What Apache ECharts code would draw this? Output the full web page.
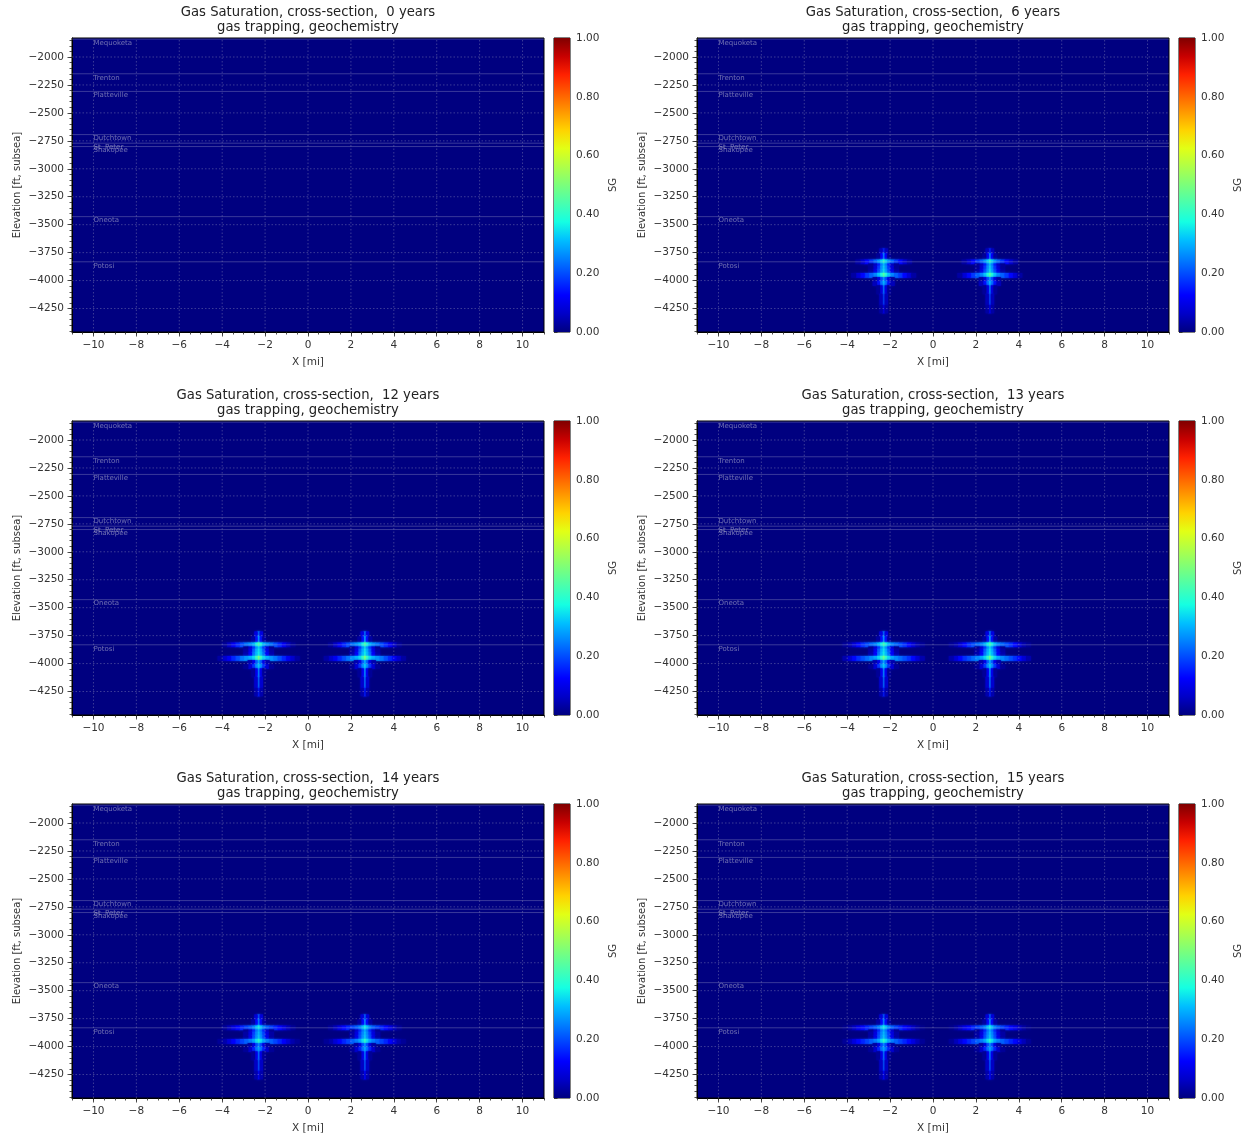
<!DOCTYPE html>
<html>
<head>
<meta charset="utf-8">
<script src="https://cdn.jsdelivr.net/npm/echarts@6/dist/echarts.min.js"></script>
<style>
html, body { margin: 0; padding: 0; background: #fff; }
#chart { width: 1247px; height: 1139px; }
</style>
</head>
<body>
<div id="chart"></div>
<script>
// 数据定义
var years = [0, 6, 12, 13, 14, 15];
var xTicks = [-10, -8, -6, -4, -2, 0, 2, 4, 6, 8, 10];
var yTicks = [-2000, -2250, -2500, -2750, -3000, -3250, -3500, -3750, -4000, -4250];
var sgTicks = [0, 0.2, 0.4, 0.6, 0.8, 1.0];
var colorbarRange = [0, 1];

var formationNames = ['Mequoketa', 'Trenton', 'Platteville', 'Dutchtown', 'St. Peter', 'Shakopee', 'Oneota', 'Potosi'];
var formationTops = [-1840, -2150, -2308, -2694, -2771, -2801, -3428, -3832];

// 两口井的位置 [mi]
var wellX = [-2.3, 2.65];
// 距井的水平偏移 [mi]（半剖面）
var offsets = [0, 0.12, 0.25, 0.4, 0.6, 0.8, 1.0, 1.2, 1.4, 1.6, 1.8];
// 网格层 [ft, subsea]
var layerTop = [-3715, -3760, -3815, -3850, -3872, -3905, -3935, -3972, -4010, -4045, -4120, -4220];
var layerBot = [-3760, -3815, -3850, -3872, -3905, -3935, -3972, -4010, -4045, -4120, -4220, -4290];

// 每个时刻的 SG 半剖面（每层一行，从井向外）
var sg00 = [];
var sg06 = [
    [0.16, 0.05],
    [0.28, 0.12, 0.02],
    [0.42, 0.34, 0.28, 0.23, 0.18, 0.13, 0.07, 0.03],
    [0.32, 0.25, 0.15, 0.06, 0.02],
    [0.34, 0.27, 0.18, 0.08, 0.02],
    [0.35, 0.28, 0.20, 0.10, 0.03],
    [0.47, 0.39, 0.32, 0.26, 0.22, 0.18, 0.13, 0.08, 0.03],
    [0.29, 0.20, 0.09, 0.03],
    [0.32, 0.24, 0.14, 0.05],
    [0.26, 0.09, 0.02],
    [0.20, 0.05],
    [0.10, 0.03]
];
var sg12 = [
    [0.25, 0.09],
    [0.31, 0.14, 0.03],
    [0.46, 0.38, 0.31, 0.27, 0.24, 0.20, 0.16, 0.11, 0.06, 0.02],
    [0.34, 0.27, 0.18, 0.08, 0.02],
    [0.36, 0.30, 0.22, 0.10, 0.03],
    [0.37, 0.31, 0.24, 0.12, 0.04],
    [0.52, 0.42, 0.34, 0.30, 0.27, 0.24, 0.20, 0.16, 0.11, 0.07, 0.03],
    [0.31, 0.22, 0.10, 0.04],
    [0.34, 0.27, 0.18, 0.08, 0.02],
    [0.29, 0.11, 0.02],
    [0.25, 0.07],
    [0.15, 0.04]
];
var sg13 = [
    [0.25, 0.09],
    [0.31, 0.14, 0.03],
    [0.45, 0.37, 0.31, 0.26, 0.23, 0.20, 0.17, 0.13, 0.08, 0.04, 0.02],
    [0.34, 0.27, 0.18, 0.08, 0.02],
    [0.36, 0.30, 0.22, 0.11, 0.03],
    [0.37, 0.31, 0.24, 0.12, 0.04],
    [0.50, 0.41, 0.34, 0.29, 0.26, 0.23, 0.20, 0.17, 0.13, 0.08, 0.04],
    [0.31, 0.22, 0.10, 0.04],
    [0.34, 0.27, 0.18, 0.08, 0.02],
    [0.29, 0.11, 0.02],
    [0.25, 0.07],
    [0.15, 0.04]
];
var sg14 = [
    [0.23, 0.08],
    [0.28, 0.13, 0.03],
    [0.38, 0.32, 0.26, 0.22, 0.19, 0.16, 0.13, 0.09, 0.05, 0.02],
    [0.30, 0.24, 0.16, 0.07, 0.02],
    [0.32, 0.26, 0.19, 0.09, 0.03],
    [0.33, 0.27, 0.20, 0.10, 0.03],
    [0.42, 0.35, 0.29, 0.25, 0.22, 0.19, 0.16, 0.12, 0.08, 0.04, 0.02],
    [0.28, 0.20, 0.09, 0.03],
    [0.30, 0.24, 0.16, 0.07, 0.02],
    [0.26, 0.10, 0.02],
    [0.22, 0.06],
    [0.13, 0.04]
];
var sg15 = [
    [0.23, 0.08],
    [0.28, 0.13, 0.03],
    [0.38, 0.32, 0.26, 0.22, 0.19, 0.16, 0.13, 0.10, 0.06, 0.03, 0.01],
    [0.30, 0.24, 0.16, 0.07, 0.02],
    [0.32, 0.26, 0.19, 0.09, 0.03],
    [0.33, 0.27, 0.20, 0.10, 0.03],
    [0.42, 0.35, 0.29, 0.25, 0.22, 0.19, 0.16, 0.13, 0.09, 0.05, 0.02],
    [0.28, 0.20, 0.09, 0.03],
    [0.30, 0.24, 0.16, 0.07, 0.02],
    [0.26, 0.10, 0.02],
    [0.22, 0.06],
    [0.13, 0.04]
];
var sgByYear = [sg00, sg06, sg12, sg13, sg14, sg15];

// 样式与布局
var jetColors = ['#000080', '#0000c8', '#0000ff', '#0040ff', '#0080ff', '#00bfff', '#15ffe2', '#48ffaf',
    '#7bff7b', '#afff48', '#e2ff15', '#ffd200', '#ff9700', '#ff5c00', '#ff2100', '#c80000', '#800000'];
var colX = [72, 697];
var rowY = [38, 421, 804];
var plotW = 472, plotH = 294;
var cbGap = 10, cbW = 16;
var xRange = [-11, 11];
var yRange = [-4460, -1830];
var fontFamily = 'DejaVu Sans';
var textColor = '#333';

function fmtMinus(v) {
    return String(v).replace('-', '\u2212');
}

function minorValues(lo, hi, step) {
    var out = [];
    for (var v = lo; v <= hi + 1e-9; v += step) {
        out.push(Math.round(v * 100) / 100);
    }
    return out;
}
var xMinor = minorValues(-11, 11, 0.5);
var yMinor = minorValues(-4450, -1850, 50);

/*
* 把半剖面展开成单元 [x0, x1, top, bot, sg]
* */
function buildCells(profile) {
    var cells = [];
    for (var w = 0; w < wellX.length; w++) {
        var x = wellX[w];
        for (var i = 0; i < profile.length; i++) {
            var row = profile[i];
            for (var k = 0; k < row.length; k++) {
                if (k === 0) {
                    var h = offsets[1] / 2;
                    cells.push([x - h, x + h, layerTop[i], layerBot[i], row[0]]);
                } else {
                    var inner = (offsets[k - 1] + offsets[k]) / 2;
                    var outer = k + 1 < offsets.length ? (offsets[k] + offsets[k + 1]) / 2 : offsets[k] + 0.1;
                    cells.push([x + inner, x + outer, layerTop[i], layerBot[i], row[k]]);
                    cells.push([x - outer, x - inner, layerTop[i], layerBot[i], row[k]]);
                }
            }
        }
    }
    return cells;
}

function renderCell(params, api) {
    var p0 = api.coord([api.value(0), api.value(2)]);
    var p1 = api.coord([api.value(1), api.value(3)]);
    var c = api.visual('color');
    return {
        type: 'rect',
        shape: {x: p0[0] - 0.3, y: p0[1] - 0.3, width: p1[0] - p0[0] + 0.6, height: p1[1] - p0[1] + 0.6},
        style: {fill: c, shadowBlur: 2, shadowColor: c}
    };
}

function renderGridLine(params, api) {
    var dir = api.value(0);
    var v = api.value(1);
    var a, b;
    if (dir === 0) {
        a = api.coord([v, yRange[0]]);
        b = api.coord([v, yRange[1]]);
    } else {
        a = api.coord([xRange[0], v]);
        b = api.coord([xRange[1], v]);
    }
    return {
        type: 'line',
        shape: {x1: a[0], y1: a[1], x2: b[0], y2: b[1]},
        style: {stroke: 'rgba(200,200,210,0.3)', lineWidth: 1, lineDash: [1.5, 2]}
    };
}

function renderFormation(params, api) {
    var idx = api.value(0);
    var top = api.value(1);
    var a = api.coord([xRange[0], top]);
    var b = api.coord([xRange[1], top]);
    var t = api.coord([-10, top]);
    return {
        type: 'group',
        children: [
            {
                type: 'line',
                shape: {x1: a[0], y1: a[1], x2: b[0], y2: b[1]},
                style: {stroke: 'rgba(190,190,215,0.3)', lineWidth: 1}
            },
            {
                type: 'text',
                style: {
                    text: formationNames[idx], x: t[0], y: t[1] + 0.5,
                    fill: 'rgba(185,185,210,0.6)', font: '7px ' + fontFamily,
                    align: 'left', verticalAlign: 'top'
                }
            }
        ]
    };
}

function renderColorbar(params, api) {
    var p0 = api.coord([0, api.value(1)]);
    var p1 = api.coord([1, api.value(0)]);
    var stops = jetColors.map(function (c, i) {
        return {offset: i / (jetColors.length - 1), color: c};
    });
    return {
        type: 'rect',
        shape: {x: p0[0], y: p0[1], width: p1[0] - p0[0], height: p1[1] - p0[1]},
        style: {fill: new echarts.graphic.LinearGradient(0, 1, 0, 0, stops)}
    };
}

var chart = echarts.init(document.getElementById('chart'), null, {renderer: 'canvas'});

var grids = [], xAxes = [], yAxes = [], series = [], titles = [], plumeIdx = [];
var gridLineData = xTicks.map(function (v) { return [0, v]; })
    .concat(yTicks.map(function (v) { return [1, v]; }));
var formationData = formationTops.map(function (v, i) { return [i, v]; });

years.forEach(function (yr, p) {
    var col = p % 2, row = Math.floor(p / 2);
    var left = colX[col], top = rowY[row];

    // 主图
    var g = grids.length;
    grids.push({
        left: left, top: top, width: plotW, height: plotH,
        show: true, backgroundColor: jetColors[0], borderColor: '#000', borderWidth: 1,
        containLabel: false, outerBoundsMode: 'none'
    });
    var xMinorIdx = xAxes.length;
    xAxes.push({
        gridIndex: g, type: 'value', min: xRange[0], max: xRange[1], position: 'bottom',
        axisLine: {show: true, onZero: false, lineStyle: {color: '#000', width: 1}},
        axisTick: {show: true, customValues: xMinor, length: 2.5, lineStyle: {color: '#222', width: 0.8}},
        axisLabel: {show: false}, splitLine: {show: false}
    });
    var xMajorIdx = xAxes.length;
    xAxes.push({
        gridIndex: g, type: 'value', min: xRange[0], max: xRange[1], position: 'bottom',
        axisLine: {show: false, onZero: false},
        axisTick: {show: true, customValues: xTicks, length: 4.5, lineStyle: {color: '#222', width: 0.8}},
        axisLabel: {customValues: xTicks, formatter: fmtMinus, fontSize: 10.5, color: textColor, margin: 8, fontFamily: fontFamily},
        splitLine: {show: false},
        name: 'X [mi]', nameLocation: 'middle', nameGap: 25,
        nameTextStyle: {fontSize: 10.5, color: textColor, fontFamily: fontFamily}
    });
    var yMinorIdx = yAxes.length;
    yAxes.push({
        gridIndex: g, type: 'value', min: yRange[0], max: yRange[1], position: 'left',
        axisLine: {show: true, onZero: false, lineStyle: {color: '#000', width: 1}},
        axisTick: {show: true, customValues: yMinor, length: 2.5, lineStyle: {color: '#222', width: 0.8}},
        axisLabel: {show: false}, splitLine: {show: false}
    });
    var yMajorIdx = yAxes.length;
    yAxes.push({
        gridIndex: g, type: 'value', min: yRange[0], max: yRange[1], position: 'left',
        axisLine: {show: false, onZero: false},
        axisTick: {show: true, customValues: yTicks, length: 4.5, lineStyle: {color: '#222', width: 0.8}},
        axisLabel: {customValues: yTicks, formatter: fmtMinus, fontSize: 10.5, color: textColor, margin: 8, fontFamily: fontFamily},
        splitLine: {show: false},
        name: 'Elevation [ft, subsea]', nameLocation: 'middle', nameGap: 50, nameRotate: 90,
        nameTextStyle: {fontSize: 10, color: textColor, fontFamily: fontFamily}
    });

    plumeIdx.push(series.length);
    series.push({
        type: 'custom', name: 'SG ' + yr, xAxisIndex: xMajorIdx, yAxisIndex: yMajorIdx,
        renderItem: renderCell, data: buildCells(sgByYear[p]),
        encode: {x: [0, 1], y: [2, 3]}, clip: true, silent: true, z: 2, animation: false
    });
    series.push({
        type: 'custom', name: 'grid ' + yr, xAxisIndex: xMajorIdx, yAxisIndex: yMajorIdx,
        renderItem: renderGridLine, data: gridLineData, silent: true, z: 3, animation: false
    });
    series.push({
        type: 'custom', name: 'formations ' + yr, xAxisIndex: xMajorIdx, yAxisIndex: yMajorIdx,
        renderItem: renderFormation, data: formationData, silent: true, z: 4, animation: false
    });

    // 色标
    var cg = grids.length;
    grids.push({
        left: left + plotW + cbGap, top: top, width: cbW, height: plotH,
        show: true, borderColor: '#000', borderWidth: 1, containLabel: false, outerBoundsMode: 'none'
    });
    var cx = xAxes.length;
    xAxes.push({gridIndex: cg, type: 'value', min: 0, max: 1, show: false});
    var cy = yAxes.length;
    yAxes.push({
        gridIndex: cg, type: 'value', min: 0, max: 1, interval: 0.2, position: 'right',
        axisLine: {show: false},
        axisTick: {show: true, length: 3.5, lineStyle: {color: '#222', width: 0.8}},
        axisLabel: {formatter: function (v) { return v.toFixed(2); }, fontSize: 10.5, color: textColor, margin: 6, fontFamily: fontFamily},
        splitLine: {show: false},
        name: 'SG', nameLocation: 'middle', nameGap: 38, nameRotate: 90,
        nameTextStyle: {fontSize: 10, color: textColor, fontFamily: fontFamily}
    });
    series.push({
        type: 'custom', name: 'colorbar ' + yr, xAxisIndex: cx, yAxisIndex: cy,
        renderItem: renderColorbar, data: [colorbarRange], silent: true, animation: false
    });

    titles.push({
        text: 'Gas Saturation, cross-section,  ' + yr + ' years\ngas trapping, geochemistry',
        left: left + plotW / 2, top: top - 33, textAlign: 'center', padding: 0,
        textStyle: {fontSize: 13.2, lineHeight: 15, fontWeight: 'normal', color: '#222', fontFamily: fontFamily}
    });
});

var option = {
    backgroundColor: '#fff',
    animation: false,
    title: titles,
    grid: grids,
    xAxis: xAxes,
    yAxis: yAxes,
    visualMap: {
        type: 'continuous', show: false, min: 0, max: 1, dimension: 4,
        seriesIndex: plumeIdx, inRange: {color: jetColors}
    },
    series: series
};
chart.setOption(option);
</script>
</body>
</html>
